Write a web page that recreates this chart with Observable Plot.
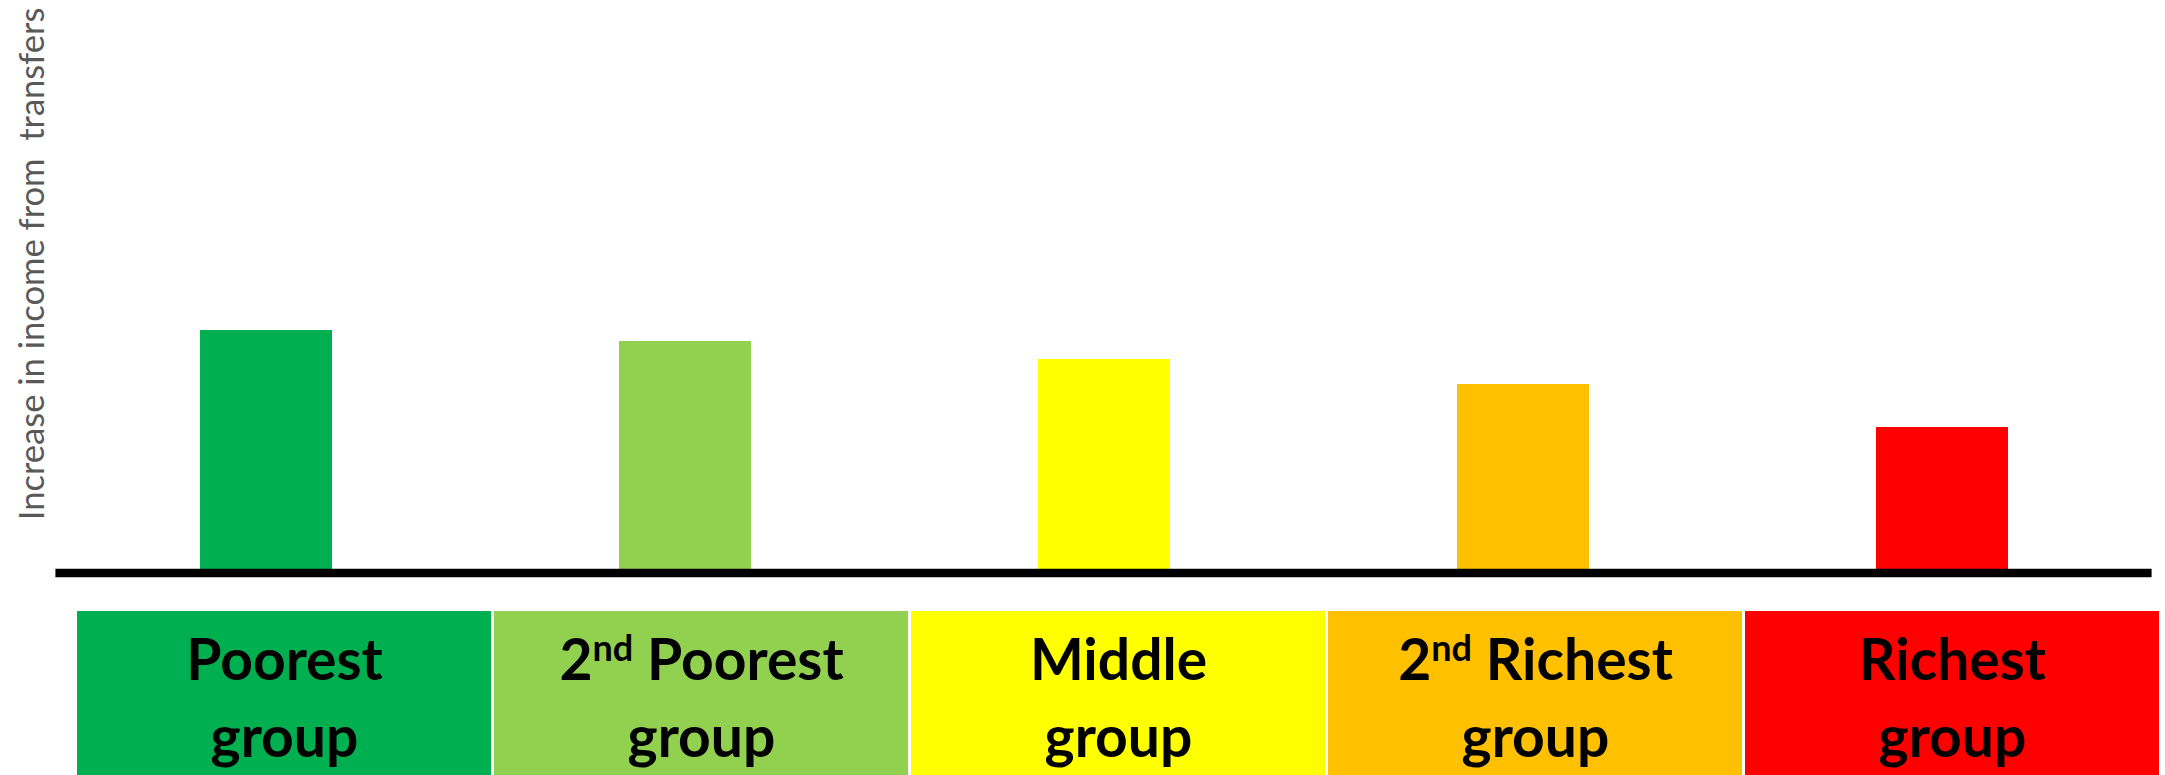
<!DOCTYPE html>
<html>
<head>
<meta charset="utf-8">
<script src="https://cdn.jsdelivr.net/npm/d3@7"></script>
<script src="https://cdn.jsdelivr.net/npm/@observablehq/plot@0.6"></script>
<style>
  html, body { margin: 0; padding: 0; background: #fff; }
  #chart svg { display: block; }
</style>
</head>
<body>
<div id="chart"></div>
<script>
// Income groups, from poorest to richest
const groups = ["Poorest", "2nd Poorest", "Middle", "2nd Richest", "Richest"];
const groupLabels = ["Poorest\ngroup", "2nd Poorest\ngroup", "Middle\ngroup", "2nd Richest\ngroup", "Richest\ngroup"];
// Increase in income from transfers (relative units, no scale shown)
const increase = [24.25, 23.15, 21.35, 18.85, 14.55];
const colors = ["#00B050", "#92D050", "#FFFF00", "#FFC000", "#FF0000"];
const yLabel = "Increase in income from  transfers";

const data = groups.map((g, i) => ({group: g, label: groupLabels[i], value: increase[i]}));
const font = "Lato, 'Open Sans', 'DejaVu Sans', sans-serif";

// Bars with a heavy baseline and a rotated axis title
const bars = Plot.plot({
  width: 2165,
  height: 610,
  marginTop: 0,
  marginBottom: 37.5,
  marginLeft: 55.4,
  marginRight: 13.4,
  x: {domain: groups, axis: null, paddingInner: 0.685, paddingOuter: 0.3425},
  y: {domain: [0, 57.25], axis: null},
  color: {domain: groups, range: colors},
  style: {background: "white", overflow: "visible"},
  marks: [
    Plot.barY(data, {x: "group", y: "value", fill: "group"}),
    Plot.ruleY([0], {stroke: "black", strokeWidth: 8.4}),
    Plot.text([yLabel], {
      text: d => d,
      frameAnchor: "top-left",
      rotate: -90,
      textAnchor: "end",
      lineAnchor: "middle",
      dx: -23.4,
      dy: 7,
      fontSize: 31,
      fill: "#595959",
      fontFamily: font
    })
  ]
});

// Coloured group name cells underneath
const boxes = Plot.plot({
  width: 2165,
  height: 165,
  marginTop: 1,
  marginBottom: 0,
  marginLeft: 75.5,
  marginRight: 4.5,
  x: {domain: groups, axis: null, paddingInner: 0.0072, paddingOuter: 0.0036},
  color: {domain: groups, range: colors},
  style: {background: "white"},
  marks: [
    Plot.cell(data, {x: "group", fill: "group", inset: 0}),
    Plot.text(data, {
      x: "group",
      text: "label",
      frameAnchor: "top",
      lineAnchor: "top",
      lineHeight: 1.35,
      dy: 13.7,
      fontSize: 57,
      fontWeight: 700,
      fill: "black",
      fontFamily: font
    })
  ]
});

const chart = document.getElementById("chart");
chart.appendChild(bars);
chart.appendChild(boxes);

// Ordinal suffix as superscript ("2nd" -> 2 + raised "nd")
const NS = "http://www.w3.org/2000/svg";
boxes.querySelectorAll("text tspan, text").forEach(el => {
  if (el.children.length) return;
  const s = el.textContent;
  const m = /^(\d+)(st|nd|rd|th)(.*)$/.exec(s);
  if (!m) return;
  el.textContent = m[1];
  const sup = document.createElementNS(NS, "tspan");
  sup.setAttribute("font-size", "36px");
  sup.setAttribute("dy", "-19px");
  sup.textContent = m[2];
  const rest = document.createElementNS(NS, "tspan");
  rest.setAttribute("dy", "19px");
  rest.textContent = m[3];
  el.appendChild(sup);
  el.appendChild(rest);
});

// Keep the double space in the axis title and fit its length
bars.querySelectorAll("text").forEach(t => {
  if (t.textContent !== yLabel) return;
  t.style.whiteSpace = "pre";
  const len = t.getComputedTextLength();
  if (len > 0) t.setAttribute("font-size", (31 * 513 / len).toFixed(2));
});
</script>
</body>
</html>
